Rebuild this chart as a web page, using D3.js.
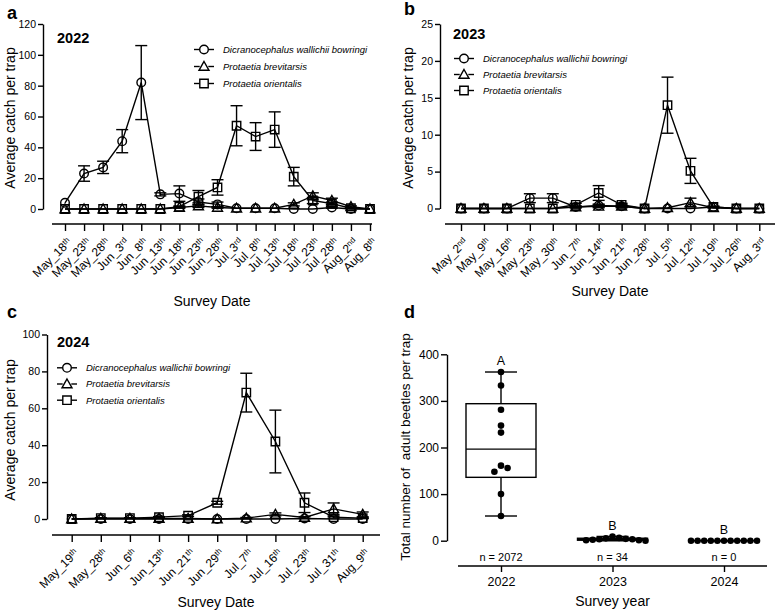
<!DOCTYPE html>
<html><head><meta charset="utf-8">
<script src="https://cdn.jsdelivr.net/npm/d3@7"></script>
<style>
body{margin:0;background:#fff}
svg text{font-family:"Liberation Sans",Arial,Helvetica,sans-serif;fill:#000}
</style>
</head><body>
<svg id="chart" width="777" height="610"></svg>
<script>
// ---------- DATA ----------
const speciesNames = ["Dicranocephalus wallichii bowringi", "Protaetia brevitarsis", "Protaetia orientalis"];
const speciesSymbols = ["circle", "triangle", "square"];

// Panel a (2022)
const datesA = ["May_18th","May_23th","May_28th","Jun_3rd","Jun_8th","Jun_13th","Jun_18th","Jun_23th","Jun_28th","Jul_3rd","Jul_8th","Jul_13th","Jul_18th","Jul_23th","Jul_28th","Aug_2nd","Aug_8th"];
const dwbA    = [4, 23, 27, 44, 82, 9.5, 10, 4.5, 3, 0.5, 0.5, 0.5, 0, 0, 1, 0, 0];
const dwbAErr = [0, 5, 4, 7.5, 24, 1, 5, 2, 1.5, 0, 0, 0, 0, 0, 0.5, 0, 0];
const pbA     = [0, 0, 0, 0, 0, 0, 1, 2, 1, 0.5, 0.5, 0.5, 3, 8.5, 5.5, 1.5, 0];
const pbAErr  = [0, 0, 0, 0, 0, 0, 0.5, 1, 0.5, 0, 0, 0, 1, 2, 1.5, 0.5, 0];
const poA     = [0, 0, 0, 0, 0, 0, 1.5, 8, 14, 54, 47, 51.5, 21, 5.5, 3.5, 0.5, 0];
const poAErr  = [0, 0, 0, 0, 0, 0, 0.5, 4, 5, 13, 9, 11.5, 6, 2, 1, 0.3, 0];
const yTicksA = [0, 20, 40, 60, 80, 100, 120];

// Panel b (2023)
const datesB = ["May_2nd","May_9th","May_16th","May_23th","May_30th","Jun_7th","Jun_14th","Jun_21th","Jun_28th","Jul_5th","Jul_12th","Jul_19th","Jul_26th","Aug_3rd"];
const dwbB    = [0, 0, 0, 1.4, 1.4, 0.2, 0.4, 0.3, 0, 0, 0, 0.2, 0, 0];
const dwbBErr = [0, 0, 0, 0.6, 0.6, 0.1, 0.2, 0.2, 0, 0, 0, 0.1, 0, 0];
const pbB     = [0, 0, 0, 0, 0, 0.2, 0.3, 0.3, 0, 0.1, 0.8, 0.1, 0, 0];
const pbBErr  = [0, 0, 0, 0, 0, 0.1, 0.2, 0.1, 0, 0, 0.6, 0, 0, 0];
const poB     = [0, 0, 0, 0, 0, 0.5, 2.1, 0.5, 0, 14, 5.1, 0.2, 0, 0];
const poBErr  = [0, 0, 0, 0, 0, 0.2, 1.0, 0.2, 0, 3.8, 1.7, 0.1, 0, 0];
const yTicksB = [0, 5, 10, 15, 20, 25];

// Panel c (2024)
const datesC = ["May_19th","May_28th","Jun_6th","Jun_13th","Jun_21th","Jun_29th","Jul_7th","Jul_16th","Jul_23th","Jul_31th","Aug_9th"];
const dwbC    = [0, 0, 0, 0, 0, 0, 0, 0, 0.3, 0, 0];
const dwbCErr = [0, 0, 0, 0, 0, 0, 0, 0, 0, 0, 0];
const pbC     = [0, 0.3, 0.3, 0.3, 0.3, 0, 0.5, 2.5, 0.8, 5.5, 2.5];
const pbCErr  = [0, 0, 0, 0, 0, 0, 0.3, 0.8, 0.5, 3.2, 1.3];
const poC     = [0, 0.5, 0.5, 1, 1.8, 8.8, 68.5, 42, 8.8, 1, 0.5];
const poCErr  = [0, 0.2, 0.2, 0.3, 0.5, 0.8, 10.5, 17, 5.3, 0.5, 0.3];
const yTicksC = [0, 20, 40, 60, 80, 100];

// Panel d (totals per trap)
const years = ["2022", "2023", "2024"];
const totals2022 = [362, 333, 281, 247, 232, 161, 156, 148, 100, 53];
const totals2023 = [9, 6, 5, 4, 3, 3, 2, 1, 1, 0];
const totals2024 = [0, 0, 0, 0, 0, 0, 0, 0, 0, 0, 0];
const sigLetters = ["A", "B", "B"];
const nLabels = ["n = 2072", "n = 34", "n = 0"];
const yTicksD = [0, 100, 200, 300, 400];

// ---------- DRAWING ----------
const svg = d3.select("#chart");
const FONT = '"Liberation Sans",Arial,Helvetica,sans-serif';
const SW = 1.4;

function drawMarker(g, type, x, y) {
  const s = g.append(type === "circle" ? "circle" : "path")
    .attr("fill", "none").attr("stroke", "#000").attr("stroke-width", SW);
  if (type === "circle") s.attr("cx", x).attr("cy", y).attr("r", 4.3);
  else if (type === "square") s.attr("d", `M${x-4.2},${y-4.2}h8.4v8.4h-8.4Z`);
  else s.attr("d", `M${x},${y-5}L${x+5},${y+3.8}L${x-5},${y+3.8}Z`);
}

function dateLabel(textSel, label) {
  const m = label.match(/^(.*?)(st|nd|rd|th)$/);
  textSel.text(null);
  textSel.append("tspan").text(m ? m[1] : label);
  if (m) textSel.append("tspan").attr("dy", "-0.45em").attr("font-size", "8px").text(m[2]);
}

function linePanel(cfg) {
  const g = svg.append("g");
  const x = d3.scalePoint().domain(cfg.dates).range(cfg.xRange);
  const y = d3.scaleLinear().domain([0, d3.max(cfg.yTicks)]).range(cfg.yRange);

  // y axis
  const ya = g.append("g").attr("transform", `translate(${cfg.yAxisX},0)`)
    .call(d3.axisLeft(y).tickValues(cfg.yTicks).tickSize(5).tickSizeOuter(0).tickPadding(2));
  ya.selectAll("path,line").attr("stroke", "#000").attr("stroke-width", SW);
  ya.selectAll("text").attr("font-size", "10.5px").attr("font-family", FONT);

  // x axis (offset)
  const xa = g.append("g").attr("transform", `translate(0,${cfg.xAxisY})`)
    .call(d3.axisBottom(x).tickSize(7).tickSizeOuter(0));
  xa.select(".domain").remove();
  xa.append("line").attr("x1", cfg.xAxisRange[0]).attr("x2", cfg.xAxisRange[1])
    .attr("stroke", "#000").attr("stroke-width", SW);
  xa.selectAll("line").attr("stroke", "#000").attr("stroke-width", SW);
  xa.selectAll(".tick text").each(function(d) {
    const t = d3.select(this);
    t.attr("y", null).attr("dy", null).attr("x", null)
     .attr("text-anchor", "end").attr("font-size", "12px").attr("font-family", FONT)
     .attr("transform", "translate(7,19) rotate(-45)");
    dateLabel(t, d);
  });

  g.append("text").attr("x", d3.mean(cfg.xAxisRange)).attr("y", cfg.titleY)
    .attr("text-anchor", "middle").attr("font-size", "14px").text("Survey Date");
  g.append("text").attr("transform", `translate(${cfg.yTitleX},${cfg.yTitleY}) rotate(-90)`)
    .attr("text-anchor", "middle").attr("font-size", "14px").text("Average catch per trap");

  g.append("text").attr("x", cfg.panelXY[0]).attr("y", cfg.panelXY[1])
    .attr("font-size", "18px").attr("font-weight", "bold").text(cfg.panel);
  g.append("text").attr("x", cfg.yearXY[0]).attr("y", cfg.yearXY[1])
    .attr("font-size", "14.5px").attr("font-weight", "bold").text(cfg.year);

  // series
  const line = d3.line().x((d, i) => x(cfg.dates[i])).y(d => y(d));
  cfg.series.forEach((s, k) => {
    const sg = g.append("g");
    s.vals.forEach((v, i) => {
      const e = s.errs[i];
      if (e > 0) {
        const cx = x(cfg.dates[i]);
        const lo = y(Math.max(0, v - e)), hi = y(v + e);
        sg.append("line").attr("x1", cx).attr("x2", cx).attr("y1", lo).attr("y2", hi)
          .attr("stroke", "#000").attr("stroke-width", SW);
        [hi, lo].forEach(yy => sg.append("line").attr("x1", cx - 6).attr("x2", cx + 6)
          .attr("y1", yy).attr("y2", yy).attr("stroke", "#000").attr("stroke-width", SW));
      }
    });
    sg.append("path").attr("d", line(s.vals)).attr("fill", "none")
      .attr("stroke", "#000").attr("stroke-width", SW);
    s.vals.forEach((v, i) => drawMarker(sg, speciesSymbols[k], x(cfg.dates[i]), y(v)));
  });

  // legend
  speciesNames.forEach((name, k) => {
    const ly = cfg.legendY + k * cfg.legendStep;
    const lx = cfg.legendX;
    g.append("line").attr("x1", lx - 10).attr("x2", lx - 4.3).attr("y1", ly).attr("y2", ly)
      .attr("stroke", "#000").attr("stroke-width", SW);
    g.append("line").attr("x1", lx + 4.3).attr("x2", lx + 10).attr("y1", ly).attr("y2", ly)
      .attr("stroke", "#000").attr("stroke-width", SW);
    drawMarker(g, speciesSymbols[k], lx, ly);
    g.append("text").attr("x", lx + 19).attr("y", ly).attr("dy", "0.35em")
      .attr("font-size", "9.5px").attr("font-style", "italic").text(name);
  });
}

linePanel({
  panel: "a", panelXY: [7, 19], year: "2022", yearXY: [57, 43],
  dates: datesA, xRange: [65, 370], yTicks: yTicksA, yRange: [209, 24],
  yAxisX: 43, xAxisY: 224, xAxisRange: [52, 372], titleY: 306,
  yTitleX: 15, yTitleY: 118,
  legendX: 204, legendY: 49.5, legendStep: 17,
  series: [{vals: dwbA, errs: dwbAErr}, {vals: pbA, errs: pbAErr}, {vals: poA, errs: poAErr}]
});
linePanel({
  panel: "b", panelXY: [404, 15], year: "2023", yearXY: [453, 39],
  dates: datesB, xRange: [461, 759.3], yTicks: yTicksB, yRange: [208.5, 24],
  yAxisX: 440, xAxisY: 224, xAxisRange: [445, 775], titleY: 296,
  yTitleX: 413, yTitleY: 118,
  legendX: 464, legendY: 58.5, legendStep: 16,
  series: [{vals: dwbB, errs: dwbBErr}, {vals: pbB, errs: pbBErr}, {vals: poB, errs: poBErr}]
});
linePanel({
  panel: "c", panelXY: [7, 318], year: "2024", yearXY: [57, 347],
  dates: datesC, xRange: [71.7, 362.7], yTicks: yTicksC, yRange: [519, 334.5],
  yAxisX: 47, xAxisY: 535, xAxisRange: [52, 380], titleY: 607,
  yTitleX: 15, yTitleY: 430,
  legendX: 67, legendY: 367.8, legendStep: 16.2,
  series: [{vals: dwbC, errs: dwbCErr}, {vals: pbC, errs: pbCErr}, {vals: poC, errs: poCErr}]
});

// ---------- Panel d ----------
(function() {
  const g = svg.append("g");
  const x = d3.scalePoint().domain(years).range([501, 724]);
  const y = d3.scaleLinear().domain([0, 400]).range([540.7, 354.3]);
  const groups = [totals2022, totals2023, totals2024];

  const ya = g.append("g").attr("transform", "translate(447,0)")
    .call(d3.axisLeft(y).tickValues(yTicksD).tickSize(6).tickSizeOuter(0).tickPadding(2));
  ya.selectAll("path,line").attr("stroke", "#000").attr("stroke-width", SW);
  ya.selectAll("text").attr("font-size", "12px").attr("font-family", FONT);

  const xa = g.append("g").attr("transform", "translate(0,566)")
    .call(d3.axisBottom(x).tickSize(6).tickSizeOuter(0).tickPadding(5));
  xa.select(".domain").remove();
  xa.append("line").attr("x1", 458).attr("x2", 767).attr("stroke", "#000").attr("stroke-width", SW);
  xa.selectAll("line").attr("stroke", "#000").attr("stroke-width", SW);
  xa.selectAll("text").attr("font-size", "12.5px").attr("font-family", FONT);

  g.append("text").attr("x", 612.5).attr("y", 606).attr("text-anchor", "middle")
    .attr("font-size", "14px").text("Survey year");
  g.append("text").attr("transform", "translate(410,447) rotate(-90)")
    .attr("text-anchor", "middle").attr("font-size", "13.5px").style("white-space", "pre")
    .text("Total number of  adult beetles per trap");
  g.append("text").attr("x", 404).attr("y", 318).attr("font-size", "18px").attr("font-weight", "bold").text("d");

  // quantile (n+1)p method
  function q6(sorted, p) {
    const n = sorted.length, pos = (n + 1) * p - 1;
    if (pos <= 0) return sorted[0];
    if (pos >= n - 1) return sorted[n - 1];
    const lo = Math.floor(pos);
    return sorted[lo] + (pos - lo) * (sorted[lo + 1] - sorted[lo]);
  }
  const r = 3.3, halfBox = 35, halfCap = 16;
  groups.forEach((vals, i) => {
    const cx = x(years[i]);
    const s = vals.slice().sort(d3.ascending);
    const q1 = q6(s, 0.25), med = q6(s, 0.5), q3 = q6(s, 0.75);
    const mn = s[0], mx = s[s.length - 1];
    const L = (x1, y1, x2, y2) => g.append("line").attr("x1", x1).attr("y1", y1).attr("x2", x2).attr("y2", y2)
      .attr("stroke", "#000").attr("stroke-width", SW);
    L(cx, y(mx), cx, y(q3)); L(cx, y(q1), cx, y(mn));
    L(cx - halfCap, y(mx), cx + halfCap, y(mx)); L(cx - halfCap, y(mn), cx + halfCap, y(mn));
    g.append("rect").attr("x", cx - halfBox).attr("y", y(q3)).attr("width", 2 * halfBox)
      .attr("height", Math.max(0, y(q1) - y(q3))).attr("fill", "none").attr("stroke", "#000").attr("stroke-width", SW);
    L(cx - halfBox, y(med), cx + halfBox, y(med));

    // simple beeswarm
    const placed = [];
    vals.slice().sort(d3.descending).forEach(v => {
      const py = y(v);
      for (let k = 0; k < 40; k++) {
        const off = k === 0 ? 0 : (k % 2 ? 1 : -1) * Math.ceil(k / 2) * 2 * r;
        const px = cx + off;
        if (placed.every(p => Math.hypot(p[0] - px, p[1] - py) >= 2 * r - 0.01)) { placed.push([px, py]); break; }
      }
    });
    placed.forEach(p => g.append("circle").attr("cx", p[0]).attr("cy", p[1]).attr("r", r).attr("fill", "#000"));

    g.append("text").attr("x", cx).attr("y", y(mx) - 7).attr("text-anchor", "middle")
      .attr("font-size", "12.5px").text(sigLetters[i]);
    g.append("text").attr("x", cx).attr("y", 560.5).attr("text-anchor", "middle")
      .attr("font-size", "11px").text(nLabels[i]);
  });
})();
</script>
</body></html>
